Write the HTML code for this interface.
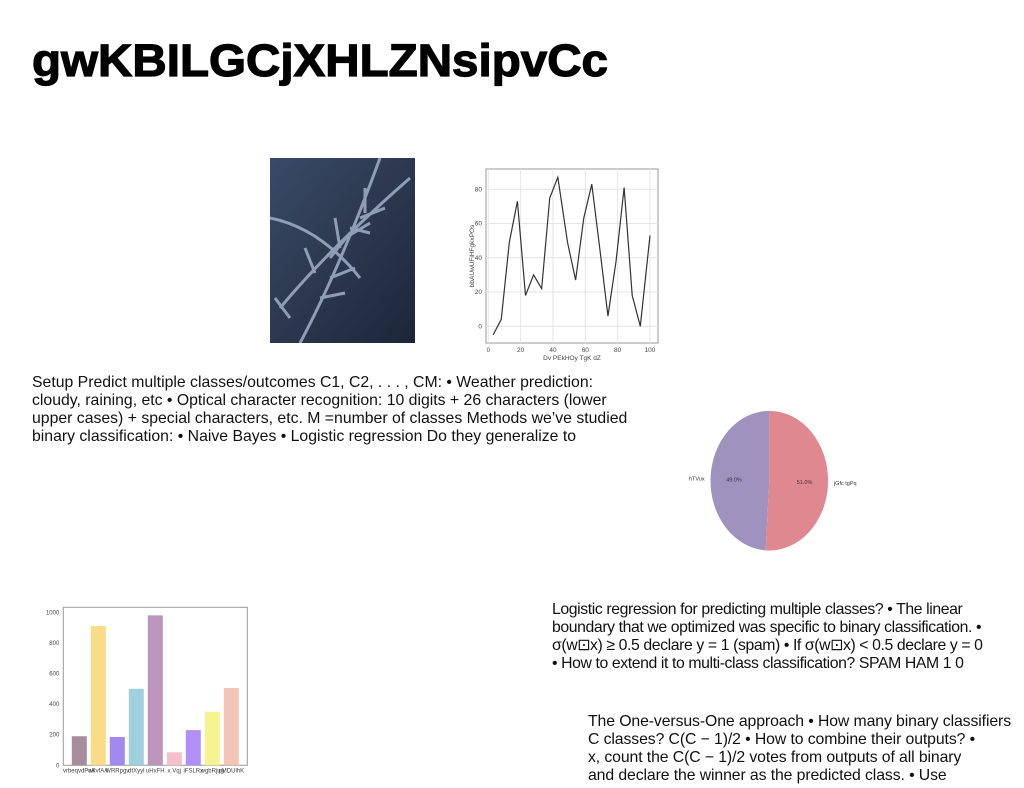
<!DOCTYPE html>
<html><head><meta charset="utf-8"><style>
body{margin:0;width:1024px;height:788px;background:#fff;position:relative;overflow:hidden;font-family:"Liberation Sans",sans-serif}
.p{position:absolute;color:#111;font-size:15.4px;line-height:18px}
.nw{white-space:nowrap}
svg text{font-family:"Liberation Sans",sans-serif}
</style></head><body>
<svg style="position:absolute;left:0;top:0" width="1024" height="100">
<text x="32" y="76" font-size="45" font-weight="bold" stroke="#000" stroke-width="1.2" textLength="576" lengthAdjust="spacingAndGlyphs" fill="#000">gwKBILGCjXHLZNsipvCc</text></svg>

<svg style="position:absolute;left:270px;top:158px" width="145" height="185">
<defs><linearGradient id="g" x1="0" y1="0" x2="1" y2="1"><stop offset="0" stop-color="#3a4a66"/><stop offset="1" stop-color="#1c2638"/></linearGradient></defs>
<rect width="145" height="185" fill="url(#g)"/>
<g stroke="#a8b8d0" stroke-width="3" fill="none" opacity="0.8">
<path d="M10 150 Q60 90 140 20"/><path d="M30 185 Q70 110 110 0"/><path d="M0 60 Q50 70 90 120"/>
<path d="M60 100 l20 -25 M75 80 l25 -15 M90 60 l25 -10 M45 115 l-10 -25 M70 90 l-5 -30 M95 55 l0 -25"/>
<path d="M50 140 l25 -5 M60 120 l25 -10 M80 70 l20 5 M20 160 l-15 -20"/>
</g></svg>

<svg style="position:absolute;left:0;top:0" width="1024" height="788" id="lc"></svg>

<div class="p" style="left:32px;top:374px;width:603px;font-size:15.8px">Setup Predict multiple classes/outcomes C1, C2, . . . , CM: • Weather prediction: cloudy, raining, etc • Optical character recognition: 10 digits + 26 characters (lower upper cases) + special characters, etc. M =number of classes Methods we’ve studied binary classification: • Naive Bayes • Logistic regression Do they generalize to</div>
<div class="p nw" style="left:552px;top:601px;font-size:15.8px;letter-spacing:-0.4px">Logistic regression for predicting multiple classes? • The linear<br>boundary that we optimized was specific to binary classification. •<br>σ(w⊡x) ≥ 0.5 declare y = 1 (spam) • If σ(w⊡x) &lt; 0.5 declare y = 0<br>• How to extend it to multi-class classification? SPAM HAM 1 0</div>
<div class="p nw" style="left:588px;top:713px;font-size:15.8px;letter-spacing:-0.1px">The One-versus-One approach • How many binary classifiers<br>C classes? C(C − 1)/2 • How to combine their outputs? •<br>x, count the C(C − 1)/2 votes from outputs of all binary<br>and declare the winner as the predicted class. • Use</div>

<script>
const lineX=[3,8,13,18,23,28,33,38,43,49,54,59,64,69,74,79,84,89,94,100];
const lineY=[-5,4,49,73,18,30,22,75,87,49,27,63,83,45,6,38,81,18,0,53];
const xTicks=[0,20,40,60,80,100];
const yTicks=[0,20,40,60,80];
const barCats=["vrbeqvdPaK","wkvfAA","WRRpgv","dtXyyl","uHxFH","x Vqj","iFSLRx","wgbRjug","pMDUlhK"];
const barVals=[190,910,185,500,980,85,230,350,505];
const barTicks=[0,200,400,600,800,1000];
const pieLabels=["hTVux","jGfc tgPq"];
const pieVals=[49,51];

const NS="http://www.w3.org/2000/svg";
const svg=document.getElementById('lc');
function mk(t,a,p){const e=document.createElementNS(NS,t);for(const k in a)e.setAttribute(k,a[k]);(p||svg).appendChild(e);return e;}
const L=486,R=658,T=169,B=343;
const lx=v=>488.3+v*(650-488.3)/100, ly=v=>326.3-v*1.7125;
mk('rect',{x:L,y:T,width:R-L,height:B-T,fill:'#fff',stroke:'#999'});
xTicks.forEach(t=>{mk('line',{x1:lx(t),x2:lx(t),y1:T,y2:B,stroke:'#e4e4e4'});const e=mk('text',{x:lx(t),y:B+9,'font-size':6.5,'text-anchor':'middle',fill:'#444'});e.textContent=t;});
yTicks.forEach(t=>{mk('line',{x1:L,x2:R,y1:ly(t),y2:ly(t),stroke:'#e4e4e4'});const e=mk('text',{x:L-4,y:ly(t)+2,'font-size':6.5,'text-anchor':'end',fill:'#444'});e.textContent=t;});
const pl=mk('polyline',{points:lineX.map((x,i)=>lx(x)+','+ly(lineY[i])).join(' '),fill:'none',stroke:'#333','stroke-width':1.2});


let e=mk('text',{x:572,y:360,'font-size':6.5,'text-anchor':'middle',fill:'#444'});e.textContent='Dv PEkHOy TgK  dZ';
e=mk('text',{x:0,y:0,'font-size':6.5,'text-anchor':'middle',fill:'#444',transform:'translate(474,256) rotate(-90)'});e.textContent='bbAUwUFiHFgkxPOs';
const bL=63.3,bR=247.3,bT=607.3,bB=765.3;
const by=v=>bB-v*(765.3-612.3)/1000, bx=i=>79.3+i*19;
const cols=['#a88c9e','#f8dc88','#a08af0','#a0d0de','#bc94bc','#f4c0cc','#b090f8','#f4f490','#f4c4b4'];
mk('rect',{x:bL,y:bT,width:bR-bL,height:bB-bT,fill:'#fff',stroke:'#999'});
barTicks.forEach(t=>{const e=mk('text',{x:bL-4,y:by(t)+2,'font-size':6,'text-anchor':'end',fill:'#444'});e.textContent=t;});
barVals.forEach((v,i)=>{const r=mk('rect',{x:bx(i)-7.5,y:by(v),width:15,height:bB-by(v),fill:cols[i]});


const t=mk('text',{x:bx(i),y:bB+7,'font-size':6,'text-anchor':'middle',fill:'#444'});t.textContent=barCats[i];});
const cx=769.3,cy=480.7,rx=58.8,ry=69.8;
const tot=pieVals.reduce((a,b)=>a+b,0);let ang=Math.PI/2;const pc=['#a092bf','#e0888f'];
pieVals.forEach((v,i)=>{const a2=ang+v/tot*2*Math.PI;const p=pt=>[cx+rx*Math.cos(pt),cy-ry*Math.sin(pt)];
const [x1,y1]=p(ang),[x2,y2]=p(a2);const big=(a2-ang)>Math.PI?1:0;
const s=mk('path',{d:`M${cx},${cy}L${x1},${y1}A${rx},${ry} 0 ${big} 0 ${x2},${y2}Z`,fill:pc[i]});


const m=(ang+a2)/2;const q=mk('text',{x:cx+rx*0.6*Math.cos(m),y:cy-ry*0.6*Math.sin(m)+2,'font-size':5.5,'text-anchor':'middle',fill:'#333'});q.textContent=v.toFixed(1)+'%';
const lb=mk('text',{x:cx+rx*1.1*Math.cos(m),y:cy-ry*1.1*Math.sin(m)+2,'font-size':5.5,'text-anchor':Math.cos(m)<0?'end':'start',fill:'#333'});lb.textContent=pieLabels[i];
ang=a2;});
</script>
</body></html>
